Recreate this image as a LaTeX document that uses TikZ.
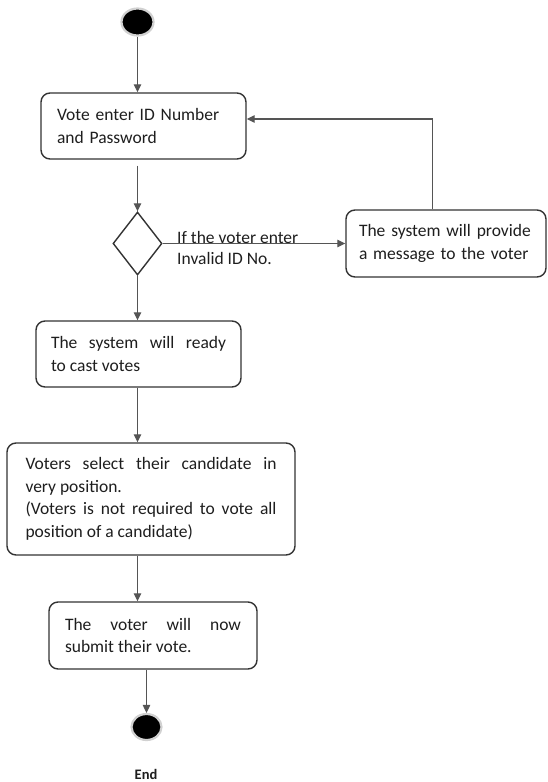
\documentclass[tikz,border=0pt]{standalone}
\usepackage{fontspec}
\setmainfont{Carlito}
\usetikzlibrary{shapes.geometric,arrows.meta}
\hyphenpenalty=10000
\exhyphenpenalty=10000
\definecolor{boxline}{HTML}{333333}
\definecolor{conline}{HTML}{555555}
\definecolor{txt}{HTML}{1E1E1E}
\tikzset{
  actbox/.style={draw=boxline, line width=1.4pt, rounded corners=9pt, fill=white,
    font=\fontsize{17.5}{22.5}\selectfont, text=txt, inner ysep=0pt},
  arr/.style={draw=conline, line width=1.1pt, -{Triangle[length=8pt,width=7.5pt]}},
  startdot/.style={ellipse, fill=black, draw=black!18, line width=2.2pt, inner sep=0pt},
}
\begin{document}
\begin{tikzpicture}[x=1pt,y=-1pt]
\useasboundingbox (0,0) rectangle (547,782);

\node[startdot, minimum width=32pt, minimum height=27pt] (start) at (137.5,22) {};

\node[actbox, minimum width=205pt, minimum height=66pt, text width=173pt, inner xsep=16pt, align=left]
  (b1) at (143.5,126) {Vote enter ID Number\\and Password};

\node[diamond, draw=boxline, line width=1.4pt, fill=white, minimum width=49pt, minimum height=63pt, inner sep=0pt]
  (dia) at (137.5,243.5) {};

\node[actbox, minimum width=200pt, minimum height=67pt, text width=174pt, inner xsep=13pt, align=left]
  (b2) at (446,243.5) {The system will provide\\a message to the voter};

\node[actbox, minimum width=205pt, minimum height=66pt, text width=175pt, inner xsep=15pt, align=justify]
  (b3) at (138.5,354) {The system will ready\linebreak to cast votes};

\node[actbox, minimum width=288pt, minimum height=112pt, text width=251pt, inner xsep=18.5pt, align=justify]
  (b4) at (151,499) {Voters select their candidate in\linebreak very position.\\(Voters is not required to vote all\linebreak position of a candidate)};

\node[actbox, minimum width=208pt, minimum height=67pt, text width=176pt, inner xsep=16pt, align=justify]
  (b5) at (153,635.5) {The voter will now\linebreak submit their vote.};

\node[startdot, minimum width=30pt, minimum height=26pt] (end) at (146.5,727) {};
\node[font=\fontsize{14.5}{17}\selectfont\bfseries, text=txt] (endlbl) at (146,774) {End};

\node[font=\fontsize{17.5}{21}\selectfont, text=txt, align=left, anchor=west, inner sep=0pt]
  (lbl) at (177,247.5) {If the voter enter\\Invalid ID No.};

% connectors
\draw[arr] (start) -- (start |- b1.north);
\coordinate (b1gap) at ([yshift=-6pt]b1.south -| dia.north);
\draw[arr] (b1gap) -- (dia.north);
\draw[arr] (dia.east) -- (b2.west);
\coordinate (fbx) at ([xshift=-13.5pt]b2.north);
\coordinate (fbcorner) at (432.5,119);
\draw[arr] (fbx) -- (fbcorner) -- (b1.east |- fbcorner);
\draw[arr] (dia.south) -- (dia.south |- b3.north);
\draw[arr] (dia.south |- b3.south) -- (dia.south |- b4.north);
\draw[arr] (dia.south |- b4.south) -- (dia.south |- b5.north);
\draw[arr] (end |- b5.south) -- (end.north);
\end{tikzpicture}
\end{document}
